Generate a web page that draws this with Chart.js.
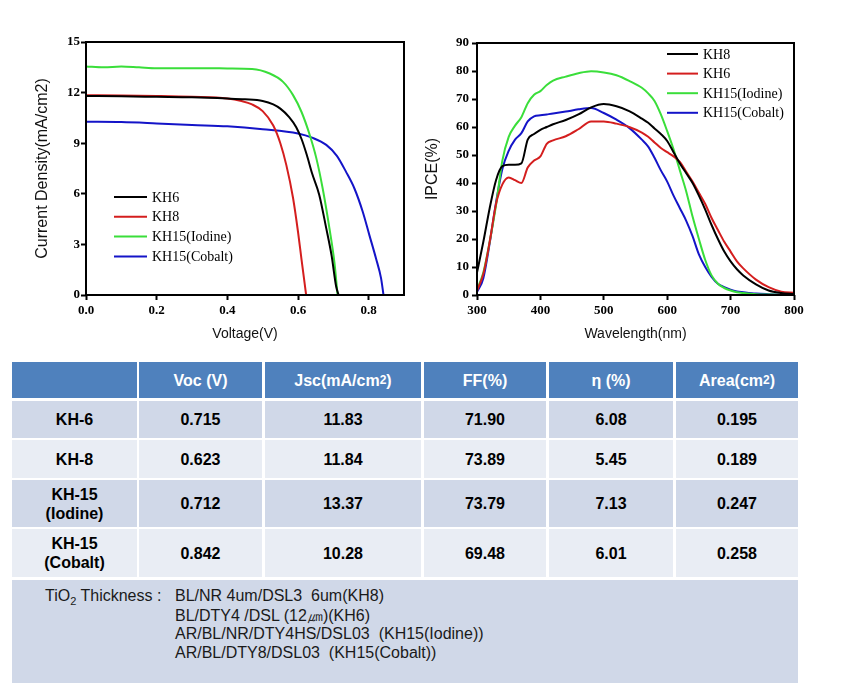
<!DOCTYPE html>
<html>
<head>
<meta charset="utf-8">
<script src="https://cdn.jsdelivr.net/npm/chart.js@4.4.1/dist/chart.umd.min.js"></script>
<style>
  body { margin: 0; background: #fff; width: 860px; height: 698px; position: relative; overflow: hidden;
         font-family: 'Liberation Sans', Arial, sans-serif; }
  #jv { position: absolute; left: 0; top: 30px; }
  #ipce { position: absolute; left: 420px; top: 30px; }
  .cell { position: absolute; display: flex; align-items: center; justify-content: center; text-align: center;
          font-weight: bold; font-size: 16px; line-height: 19px; color: #000; box-sizing: border-box; }
  .head { background: #4f81bd; color: #fff; }
  .odd { background: #d0d8e8; }
  .even { background: #e9edf4; }
  sup { font-size: 12px; line-height: 0; vertical-align: 6px; }
  sub { font-size: 11px; line-height: 0; vertical-align: -4px; }
  #notes { position: absolute; left: 12px; top: 580px; width: 786px; height: 103px; background: #d0d8e8;
           font-size: 16px; color: #1a1a1a; }
  #notes div { position: absolute; white-space: nowrap; }
</style>
</head>
<body>
<canvas id="jv" width="420" height="320"></canvas>
<canvas id="ipce" width="420" height="320"></canvas>
<div id="table"></div>
<div id="notes"></div>
<script>
// J-V curves (voltage V, current density mA/cm2)
const jvV_KH6 = [0, 0.1, 0.2, 0.3, 0.4, 0.45, 0.5, 0.53, 0.55, 0.575, 0.595, 0.61, 0.625, 0.64, 0.66, 0.68, 0.695, 0.708, 0.715];
const jvJ_KH6 = [11.8, 11.78, 11.75, 11.72, 11.65, 11.6, 11.5, 11.3, 11.05, 10.55, 9.95, 9.25, 8.3, 7.2, 5.95, 3.95, 2.35, 0.5, 0];
const jvV_KH8 = [0, 0.1, 0.2, 0.3, 0.4, 0.44, 0.47, 0.5, 0.53, 0.55, 0.567, 0.586, 0.6, 0.61, 0.623];
const jvJ_KH8 = [11.85, 11.83, 11.8, 11.75, 11.65, 11.5, 11.3, 10.9, 10.05, 9.0, 7.7, 5.75, 3.75, 2.1, 0];
const jvV_Iodine = [0, 0.05, 0.1, 0.15, 0.2, 0.25, 0.3, 0.35, 0.4, 0.47, 0.52, 0.557, 0.586, 0.61, 0.633, 0.652, 0.67, 0.689, 0.703, 0.712];
const jvJ_Iodine = [13.55, 13.5, 13.55, 13.5, 13.45, 13.45, 13.45, 13.45, 13.43, 13.4, 13.13, 12.65, 11.85, 10.85, 9.5, 8.1, 6.3, 3.95, 1.95, 0];
const jvV_Cobalt = [0, 0.1, 0.2, 0.3, 0.4, 0.5, 0.6, 0.64, 0.68, 0.71, 0.736, 0.76, 0.783, 0.802, 0.821, 0.835, 0.842];
const jvJ_Cobalt = [10.27, 10.25, 10.17, 10.08, 10.0, 9.83, 9.58, 9.33, 8.9, 8.25, 7.3, 6.3, 4.95, 3.55, 2.15, 1.0, 0];

// IPCE spectra (%)
const wavelengths = [300, 310, 320, 330, 340, 350, 360, 370, 380, 390, 400, 410, 420, 440, 460, 480, 500, 520, 540, 560,
                     570, 580, 590, 600, 610, 620, 630, 640, 650, 660, 670, 680, 690, 700, 710, 720, 740, 760, 780, 800];
const ipce_KH8 = [8, 19, 31, 41, 46, 46.5, 46.5, 47, 55.5, 57.5, 59, 60, 61, 62.5, 64.5, 67, 68.2, 67.4, 65.7, 63,
                  61.5, 59.5, 57.5, 55, 51, 47, 43.5, 40, 35.5, 30.5, 25, 20, 15.5, 12, 9.2, 7, 3.8, 1.6, 0.7, 0.3];
const ipce_KH6 = [1.5, 7.5, 19, 32.5, 39.5, 42, 41, 40, 45.5, 48, 49.5, 54, 55.2, 56.7, 59.2, 62, 62, 61.2, 60, 58,
                  56.5, 54.5, 52.5, 51, 49.5, 47.5, 44, 40.5, 36.5, 32.5, 27.5, 23.2, 19, 15.5, 12, 9.5, 5.5, 2.8, 1.2, 0.8];
const ipce_Iodine = [2, 8, 19, 32, 48, 56.5, 60.5, 63.5, 68.5, 71.5, 72.8, 75, 76.6, 78, 79.2, 79.9, 79.5, 78.5, 76.5, 74,
                     72, 69.3, 64.5, 58.5, 52, 44.5, 37, 28, 20, 12.5, 7, 4, 2.5, 1.6, 1, 0.7, 0.3, 0.2, 0.1, 0];
const ipce_Cobalt = [1, 6, 18.5, 33, 45, 51.5, 55.5, 57.8, 62, 63.8, 64.2, 64.5, 64.8, 65.5, 66.3, 66.8, 65, 62.6, 59.7, 55.5,
                     53, 49, 44.5, 40.5, 35.5, 31, 26.5, 21, 14.5, 10, 6.5, 4, 2.8, 1.9, 1.3, 1, 0.5, 0.3, 0.2, 0.2];

// table
const tableHead = ['', 'Voc (V)', 'Jsc(mA/cm<sup>2</sup>)', 'FF(%)', 'η (%)', 'Area(cm<sup>2</sup>)'];
const tableRows = [
  ['KH-6', '0.715', '11.83', '71.90', '6.08', '0.195'],
  ['KH-8', '0.623', '11.84', '73.89', '5.45', '0.189'],
  ['KH-15<br>(Iodine)', '0.712', '13.37', '73.79', '7.13', '0.247'],
  ['KH-15<br>(Cobalt)', '0.842', '10.28', '69.48', '6.01', '0.258']
];
const noteLabel = 'TiO<sub>2</sub> Thickness :';
const noteLines = ['BL/NR 4um/DSL3&nbsp; 6um(KH8)', 'BL/DTY4 /DSL (12㎛)(KH6)',
                   'AR/BL/NR/DTY4HS/DSL03&nbsp; (KH15(Iodine))', 'AR/BL/DTY8/DSL03&nbsp; (KH15(Cobalt))'];

const BLACK = '#000000', RED = '#d41e1e', GREEN = '#3ade3a', BLUE = '#1414c8';
const pts = (xs, ys) => xs.map((x, i) => ({ x: x, y: ys[i] }));

const insideLegend = {
  id: 'insideLegend',
  afterDraw(chart, args, opts) {
    const ctx = chart.ctx;
    ctx.save();
    ctx.font = '14px "Liberation Serif"';
    ctx.textBaseline = 'middle';
    chart.data.datasets.forEach((ds, i) => {
      const y = opts.y + i * opts.step;
      ctx.strokeStyle = ds.borderColor;
      ctx.lineWidth = 2;
      ctx.beginPath();
      ctx.moveTo(opts.x, y);
      ctx.lineTo(opts.x + opts.len, y);
      ctx.stroke();
      ctx.fillStyle = '#000';
      ctx.fillText(ds.label, opts.x + opts.len + 5, y + 1);
    });
    ctx.restore();
  }
};

const frame = {
  id: 'frame',
  afterDraw(chart) {
    const { left, top, right, bottom } = chart.chartArea;
    const ctx = chart.ctx;
    ctx.save();
    ctx.strokeStyle = '#000';
    ctx.lineWidth = 2;
    ctx.strokeRect(left, top, right - left, bottom - top);
    ctx.restore();
  }
};

function line(label, data, color) {
  return { label: label, data: data, borderColor: color, backgroundColor: color, borderWidth: 2,
           pointRadius: 0, cubicInterpolationMode: 'monotone', fill: false };
}

function axes(xOpt, yOpt, yWidth, yTitle, yTitlePad, xTitle) {
  const tickFont = { family: 'Liberation Serif', weight: 'bold', size: 13 };
  const grid = { drawOnChartArea: false, drawTicks: true, tickLength: 5, tickColor: '#000', tickWidth: 2 };
  return {
    x: Object.assign({
      type: 'linear',
      grid: grid,
      border: { display: false },
      ticks: Object.assign({ font: tickFont, color: '#000', padding: 3, maxRotation: 0, autoSkip: false, includeBounds: false }, xOpt.ticks),
      title: { display: true, text: xTitle, color: '#111', font: { family: 'Liberation Sans', size: 14 }, padding: { top: 0, bottom: 7 } },
      afterFit: (s) => { s.height = 55; }
    }, xOpt.range),
    y: Object.assign({
      grid: grid,
      border: { display: false },
      ticks: Object.assign({ font: tickFont, color: '#000', padding: yOpt.pad, autoSkip: false }, yOpt.ticks),
      title: { display: true, text: yTitle, color: '#111', font: { family: 'Liberation Sans', size: 16 }, padding: { top: yTitlePad, bottom: 0 } },
      afterFit: (s) => { s.width = yWidth; }
    }, yOpt.range)
  };
}

new Chart(document.getElementById('jv'), {
  type: 'line',
  data: {
    datasets: [
      line('KH6', pts(jvV_KH6, jvJ_KH6), BLACK),
      line('KH8', pts(jvV_KH8, jvJ_KH8), RED),
      line('KH15(Iodine)', pts(jvV_Iodine, jvJ_Iodine), GREEN),
      line('KH15(Cobalt)', pts(jvV_Cobalt, jvJ_Cobalt), BLUE)
    ]
  },
  options: {
    responsive: false,
    animation: false,
    layout: { padding: { top: 12, right: 16, left: 0, bottom: 0 } },
    scales: axes(
      { range: { min: 0, max: 0.9 }, ticks: { stepSize: 0.2, callback: (v) => v.toFixed(1) } },
      { range: { min: 0, max: 15 }, ticks: { stepSize: 3 }, pad: 1 },
      86, 'Current Density(mA/cm2)', 33, 'Voltage(V)'),
    plugins: {
      legend: { display: false },
      tooltip: { enabled: false },
      insideLegend: { x: 114, y: 167, step: 19.8, len: 33 }
    }
  },
  plugins: [frame, insideLegend]
});

new Chart(document.getElementById('ipce'), {
  type: 'line',
  data: {
    datasets: [
      line('KH8', pts(wavelengths, ipce_KH8), BLACK),
      line('KH6', pts(wavelengths, ipce_KH6), RED),
      line('KH15(Iodine)', pts(wavelengths, ipce_Iodine), GREEN),
      line('KH15(Cobalt)', pts(wavelengths, ipce_Cobalt), BLUE)
    ]
  },
  options: {
    responsive: false,
    animation: false,
    layout: { padding: { top: 13, right: 46, left: 0, bottom: 0 } },
    scales: axes(
      { range: { min: 300, max: 800 }, ticks: { stepSize: 100 } },
      { range: { min: 0, max: 90 }, ticks: { stepSize: 10 }, pad: 3 },
      57, 'IPCE(%)', 3, 'Wavelength(nm)'),
    plugins: {
      legend: { display: false },
      tooltip: { enabled: false },
      insideLegend: { x: 247, y: 24, step: 19.6, len: 31 }
    }
  },
  plugins: [frame, insideLegend]
});

// table cells
const colEdges = [[12, 137], [139, 262], [265, 421], [424, 546], [549, 673], [676, 798]];
const rowEdges = [[362, 398], [401, 438], [440, 478], [480, 527], [529, 577]];
const table = document.getElementById('table');
function cell(html, c, r, cls) {
  const d = document.createElement('div');
  d.className = 'cell ' + cls;
  d.style.left = colEdges[c][0] + 'px';
  d.style.width = (colEdges[c][1] - colEdges[c][0]) + 'px';
  d.style.top = rowEdges[r][0] + 'px';
  d.style.height = (rowEdges[r][1] - rowEdges[r][0]) + 'px';
  d.innerHTML = html;
  table.appendChild(d);
}
tableHead.forEach((h, c) => cell(h, c, 0, 'head'));
tableRows.forEach((row, r) => row.forEach((v, c) => cell(v, c, r + 1, r % 2 === 0 ? 'odd' : 'even')));

const notes = document.getElementById('notes');
const lab = document.createElement('div');
lab.style.left = '33px';
lab.style.top = '7px';
lab.innerHTML = noteLabel;
notes.appendChild(lab);
noteLines.forEach((t, i) => {
  const d = document.createElement('div');
  d.style.left = '163px';
  d.style.top = (7 + i * 19) + 'px';
  d.innerHTML = t;
  notes.appendChild(d);
});
</script>
</body>
</html>
